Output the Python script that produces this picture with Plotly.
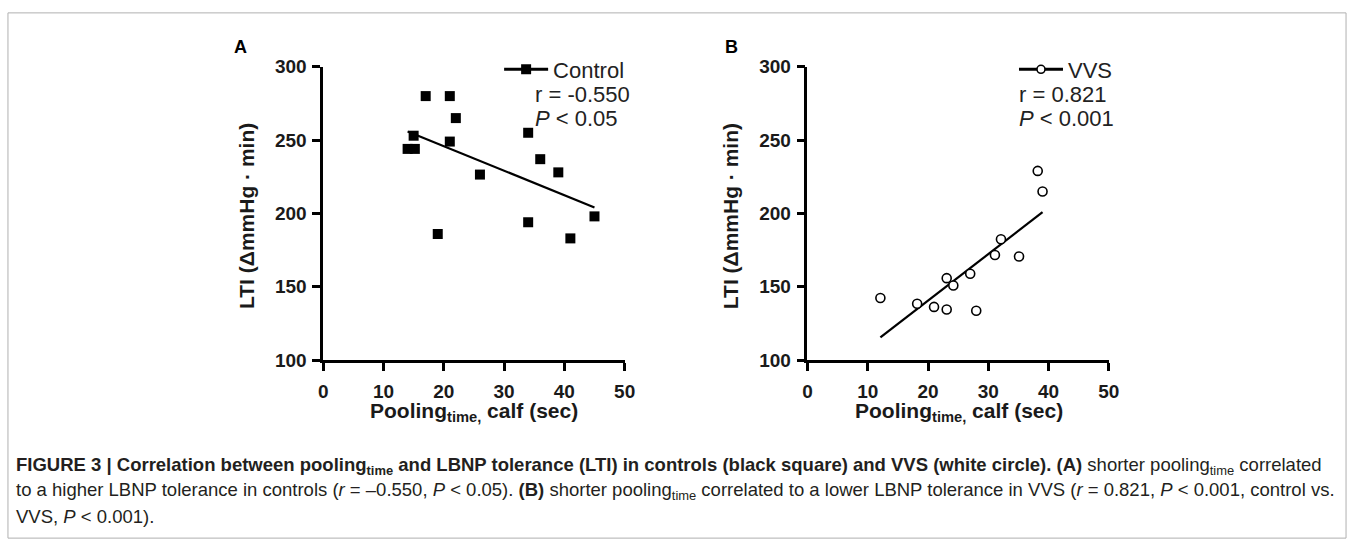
import numpy as np
import plotly.graph_objects as go

W, H = 1360, 552

# ---- data ----
ctrl_x = [14, 15.2, 15, 17, 21, 21, 22, 26, 19, 34, 36, 39, 45, 34, 41]
ctrl_y = [244, 244, 253, 280, 280, 249, 265, 226.5, 186, 255, 237, 228, 198, 194, 183]
vvs_x = [12.1, 18.2, 21, 23.1, 23.1, 24.2, 27, 28, 31.1, 32.1, 35.1, 38.2, 39.0]
vvs_y = [142.4, 138.5, 136.3, 134.5, 155.9, 150.9, 158.9, 133.7, 171.7, 182.4, 170.7, 229, 215]
x_ticks = [0, 10, 20, 30, 40, 50]
y_ticks = [100, 150, 200, 250, 300]
ctrl_stats = ["r = -0.550", "<i>P</i> < 0.05"]
vvs_stats = ["r = 0.821", "<i>P</i> < 0.001"]


def px(x):
    return x / W


def py(y):
    return 1 - y / H


def fit(xs, ys):
    k, b = np.polyfit(xs, ys, 1)
    xx = np.array([min(xs), max(xs)])
    return xx, k * xx + b


fig = go.Figure()

# Panel A
fx, fy = fit(ctrl_x, ctrl_y)
fig.add_trace(go.Scatter(x=fx, y=fy, mode="lines", line=dict(color="black", width=2.2),
                         showlegend=False, xaxis="x", yaxis="y"))
fig.add_trace(go.Scatter(x=ctrl_x, y=ctrl_y, mode="markers",
                         marker=dict(symbol="square", size=10, color="black"),
                         showlegend=False, xaxis="x", yaxis="y", cliponaxis=False))
fig.add_trace(go.Scatter(x=[None], y=[None], mode="lines+markers", name="Control",
                         line=dict(color="black", width=3),
                         marker=dict(symbol="square", size=10, color="black"),
                         legend="legend", xaxis="x", yaxis="y"))

# Panel B
fx, fy = fit(vvs_x, vvs_y)
fig.add_trace(go.Scatter(x=fx, y=fy, mode="lines", line=dict(color="black", width=2.2),
                         showlegend=False, xaxis="x2", yaxis="y2"))
fig.add_trace(go.Scatter(x=vvs_x, y=vvs_y, mode="markers",
                         marker=dict(symbol="circle", size=9, color="white",
                                     line=dict(color="black", width=1.6)),
                         showlegend=False, xaxis="x2", yaxis="y2", cliponaxis=False))
fig.add_trace(go.Scatter(x=[None], y=[None], mode="lines+markers", name="VVS",
                         line=dict(color="black", width=3),
                         marker=dict(symbol="circle", size=8, color="white",
                                     line=dict(color="black", width=1.6)),
                         legend="legend2", xaxis="x2", yaxis="y2"))

tickfont = dict(family="Liberation Sans, Arial, sans-serif", size=19, color="#1a1a1a", weight="bold")
ax_common = dict(showgrid=False, zeroline=False, showline=True, linecolor="black", linewidth=2.5,
                 ticks="outside", ticklen=8, tickwidth=2.5, tickcolor="black",
                 tickfont=tickfont, fixedrange=True)
xd_a = [px(322), px(627)]
xd_b = [px(812), px(1117)]
yd = [py(364), py(59)]

legfont = dict(family="Liberation Sans, Arial, sans-serif", size=22, color="#222")
fig.update_layout(
    width=W, height=H,
    margin=dict(l=0, r=0, t=0, b=0),
    paper_bgcolor="white", plot_bgcolor="white",
    xaxis=dict(domain=xd_a, range=[0, 50], tickvals=x_ticks, anchor="y", ticklabelstandoff=4, **ax_common),
    yaxis=dict(domain=yd, range=[100, 300], tickvals=y_ticks, anchor="x", ticklabelstandoff=2, **ax_common),
    xaxis2=dict(domain=xd_b, range=[0, 50], tickvals=x_ticks, anchor="y2", ticklabelstandoff=4, **ax_common),
    yaxis2=dict(domain=yd, range=[100, 300], tickvals=y_ticks, anchor="x2", ticklabelstandoff=2, **ax_common),
    legend=dict(x=px(500), y=py(40), xanchor="left", yanchor="top", bgcolor="rgba(0,0,0,0)",
                itemwidth=44, font=legfont),
    legend2=dict(x=px(1021), y=py(40), xanchor="left", yanchor="top", bgcolor="rgba(0,0,0,0)",
                 itemwidth=44, font=legfont),
    showlegend=True,
)

ann = []
statfont = dict(family="Liberation Sans, Arial, sans-serif", size=22, color="#222")
for i, t in enumerate(ctrl_stats):
    ann.append(dict(text=t, x=px(534), y=py(88 + 24.5 * i), xref="paper", yref="paper",
                    xanchor="left", yanchor="middle", showarrow=False, font=statfont))
for i, t in enumerate(vvs_stats):
    ann.append(dict(text=t, x=px(1024), y=py(88 + 24.5 * i), xref="paper", yref="paper",
                    xanchor="left", yanchor="middle", showarrow=False, font=statfont))

# panel letters
for lab, xx in [("A", 238), ("B", 735)]:
    ann.append(dict(text=f"<b>{lab}</b>", x=px(xx), y=py(38), xref="paper", yref="paper",
                    xanchor="center", yanchor="middle", showarrow=False,
                    font=dict(family="Liberation Sans, Arial, sans-serif", size=18, color="black")))

# axis titles
titlefont = dict(family="Liberation Sans, Arial, sans-serif", size=21, color="#1a1a1a")
for cx in [245, 735]:
    ann.append(dict(text="<b>LTI (ΔmmHg · min)</b>", x=px(cx), y=py(214), textangle=-90,
                    xref="paper", yref="paper", xanchor="center", yanchor="middle",
                    showarrow=False, font=titlefont))
for cx in [475, 965]:
    ann.append(dict(text="<b>Pooling<sub>time,</sub> calf (sec)</b>", x=px(cx), y=py(418),
                    xref="paper", yref="paper", xanchor="center", yanchor="middle",
                    showarrow=False, font=titlefont))

# caption
capfont = dict(family="Liberation Sans Narrow, Arial Narrow, sans-serif", size=18.5, color="#231f20")
cap_lines = [
    "<b>FIGURE 3 | Correlation between pooling<sub>time</sub> and LBNP tolerance (LTI) in controls (black square) and VVS (white circle). (A)</b> shorter pooling<sub>time</sub> correlated",
    "to a higher LBNP tolerance in controls (<i>r</i> = –0.550, <i>P</i> < 0.05). <b>(B)</b> shorter pooling<sub>time</sub> correlated to a lower LBNP tolerance in VVS (<i>r</i> = 0.821, <i>P</i> < 0.001, control vs.",
    "VVS, <i>P</i> < 0.001).",
]
for i, t in enumerate(cap_lines):
    ann.append(dict(text=t, x=px(9), y=py(474 + 26.5 * i), xref="paper", yref="paper",
                    xanchor="left", yanchor="middle", showarrow=False, font=capfont))

fig.update_layout(annotations=ann)

fig.add_shape(type="rect", xref="paper", yref="paper", x0=px(3), x1=px(1357), y0=py(549), y1=py(3),
              line=dict(color="#b0b0b0", width=1), fillcolor="rgba(0,0,0,0)")

fig.write_html("out.html", config={"displayModeBar": False},
               post_script="document.body.style.margin='0';document.body.style.overflow='hidden';")
